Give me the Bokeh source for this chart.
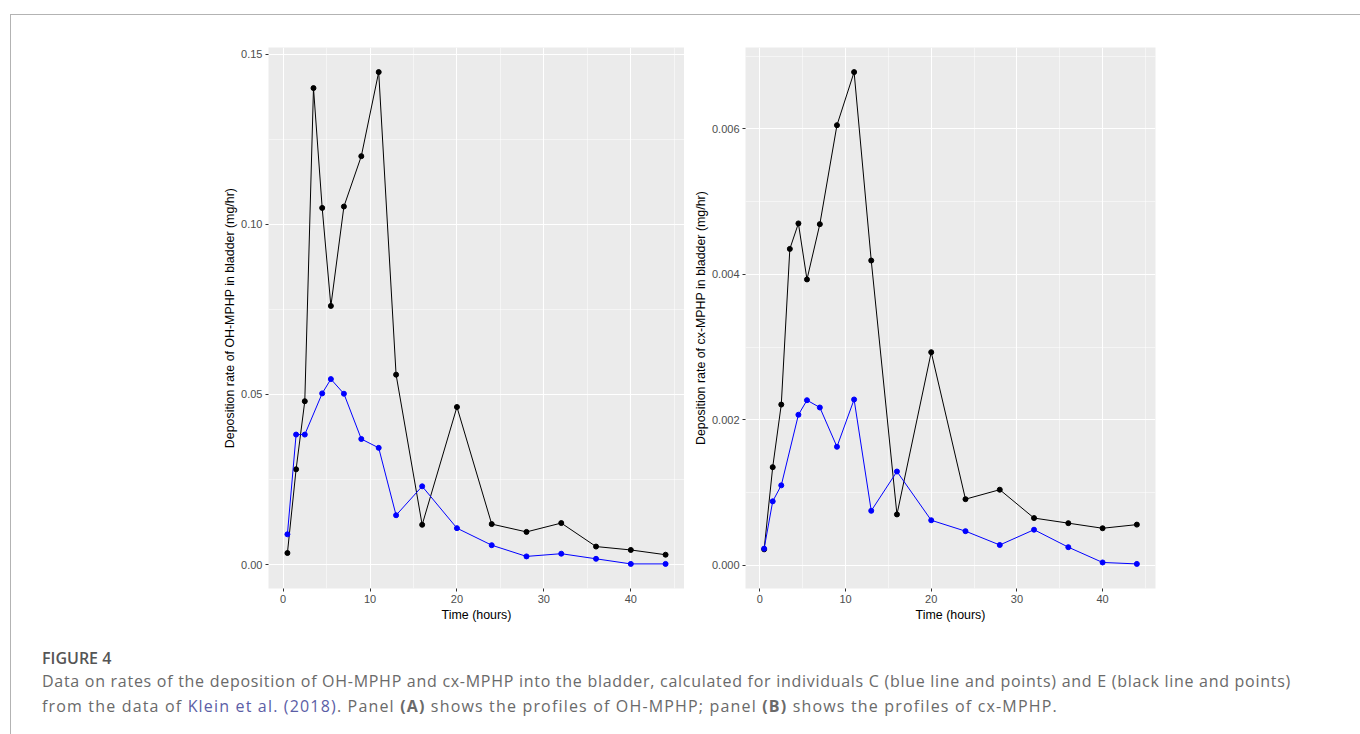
from bokeh.plotting import figure
from bokeh.models import Range1d, FixedTicker, PrintfTickFormatter, Div
from bokeh.layouts import column, row
from bokeh.embed import file_html
from bokeh.resources import INLINE

# ---------------- data ----------------
time_E = [0.5, 1.5, 2.5, 3.5, 4.5, 5.5, 7, 9, 11, 13, 16, 20, 24, 28, 32, 36, 40, 44]
time_C = [0.5, 1.5, 2.5, 4.5, 5.5, 7, 9, 11, 13, 16, 20, 24, 28, 32, 36, 40, 44]

oh_E = [0.0034, 0.028, 0.048, 0.140, 0.1048, 0.076, 0.1052, 0.120, 0.1447, 0.0558,
        0.0117, 0.0463, 0.0119, 0.0096, 0.0122, 0.0053, 0.0043, 0.0029]
oh_C = [0.0089, 0.0382, 0.0382, 0.0503, 0.0545, 0.0502, 0.0369, 0.0343, 0.0145,
        0.0230, 0.0107, 0.0057, 0.0024, 0.0032, 0.0017, 0.0002, 0.0002]

cx_E = [0.00022, 0.00135, 0.00221, 0.00435, 0.00470, 0.00393, 0.00469, 0.00605, 0.00678,
        0.00419, 0.00070, 0.00293, 0.00091, 0.00104, 0.00065, 0.00058, 0.00051, 0.00056]
cx_C = [0.00023, 0.00088, 0.00110, 0.00207, 0.00227, 0.00217, 0.00163, 0.00228, 0.00075,
        0.00129, 0.00062, 0.00047, 0.00028, 0.00049, 0.00025, 0.00004, 0.00002]

x_ticks = [0, 10, 20, 30, 40]
x_minor = [5, 15, 25, 35, 45]
oh_ticks = [0.0, 0.05, 0.10, 0.15]
oh_minor = [0.025, 0.075, 0.125]
cx_ticks = [0.0, 0.002, 0.004, 0.006]
cx_minor = [0.001, 0.003, 0.005, 0.007]

FONT = "Liberation Sans"


def expanded(vals, frac=0.05):
    lo, hi = min(vals), max(vals)
    pad = (hi - lo) * frac
    return lo - pad, hi + pad


def panel(ylabel, yE, yC, yticks, yminor, yfmt, frame_w, bl, br):
    x0, x1 = expanded(time_E + time_C)
    y0, y1 = expanded(yE + yC)
    p = figure(frame_width=frame_w, frame_height=541,
               x_range=Range1d(x0, x1), y_range=Range1d(y0, y1),
               output_backend="svg", toolbar_location=None,
               min_border_left=bl, min_border_right=br,
               min_border_top=32, min_border_bottom=42)
    p.background_fill_color = "#EBEBEB"
    p.border_fill_color = "white"
    p.outline_line_color = None

    p.xaxis.ticker = FixedTicker(ticks=x_ticks, minor_ticks=x_minor)
    p.yaxis.ticker = FixedTicker(ticks=yticks, minor_ticks=yminor)
    p.xaxis.formatter = PrintfTickFormatter(format="%d")
    p.yaxis.formatter = PrintfTickFormatter(format=yfmt)

    for ax in (p.xaxis[0], p.yaxis[0]):
        ax.axis_line_color = None
        ax.major_tick_line_color = "#333333"
        ax.major_tick_out = 3
        ax.major_tick_in = 0
        ax.minor_tick_line_color = None
        ax.major_label_text_font = FONT
        ax.major_label_text_font_size = "11px"
        ax.major_label_text_color = "#4D4D4D"
        ax.major_label_standoff = 2
        ax.axis_label_text_font = FONT
        ax.axis_label_text_font_size = "12.4px"
        ax.axis_label_text_font_style = "normal"
        ax.axis_label_text_color = "black"
        ax.axis_label_standoff = 2
    p.xaxis.axis_label = "Time (hours)"
    p.yaxis.axis_label = ylabel
    p.yaxis.axis_label_standoff = 1

    for g in (p.xgrid[0], p.ygrid[0]):
        g.grid_line_color = "white"
        g.grid_line_width = 1.1
        g.minor_grid_line_color = "white"
        g.minor_grid_line_width = 0.5

    p.line(time_E, yE, color="black", line_width=1)
    p.scatter(time_E, yE, marker="circle", size=5, color="black")
    p.line(time_C, yC, color="blue", line_width=1)
    p.scatter(time_C, yC, marker="circle", size=5, color="blue")
    return p


pA = panel("Deposition rate of OH-MPHP in bladder (mg/hr)", oh_E, oh_C,
           oh_ticks, oh_minor, "%.2f", 416, 257, 0)
pB = panel("Deposition rate of cx-MPHP in bladder (mg/hr)", cx_E, cx_C,
           cx_ticks, cx_minor, "%.3f", 410, 61, 180)

caption_html = (
    '<div style="font-family:\'Open Sans\'; white-space:nowrap;">'
    '<div style="font-size:16px; font-weight:600; color:#555555; line-height:22px;">FIGURE 4</div>'
    '<div style="font-size:16px; color:#6a6a6a; line-height:25px;">'
    '<span style="letter-spacing:0.72px;">'
    'Data on rates of the deposition of OH-MPHP and cx-MPHP into the bladder, calculated for '
    'individuals C (blue line and points) and E (black line and points)</span><br>'
    '<span style="letter-spacing:1.17px;">'
    'from the data of <span style="color:#5b5ea6;">Klein et al. (2018)</span>. Panel <b>(A)</b> '
    'shows the profiles of OH-MPHP; panel <b>(B)</b> shows the profiles of cx-MPHP.</span>'
    '</div></div>'
)
cap = Div(text=caption_html, width=1349, height=104, margin=(0, 0, 0, 0),
          styles={"padding-left": "31px", "padding-top": "17px", "box-sizing": "border-box"})

layout = column(row(pA, pB), cap, margin=(14, 0, 0, 10),
                styles={"border-top": "1px solid #b3b3b3", "border-left": "1px solid #b3b3b3"})

open("out.html", "w").write(file_html(layout, INLINE))
